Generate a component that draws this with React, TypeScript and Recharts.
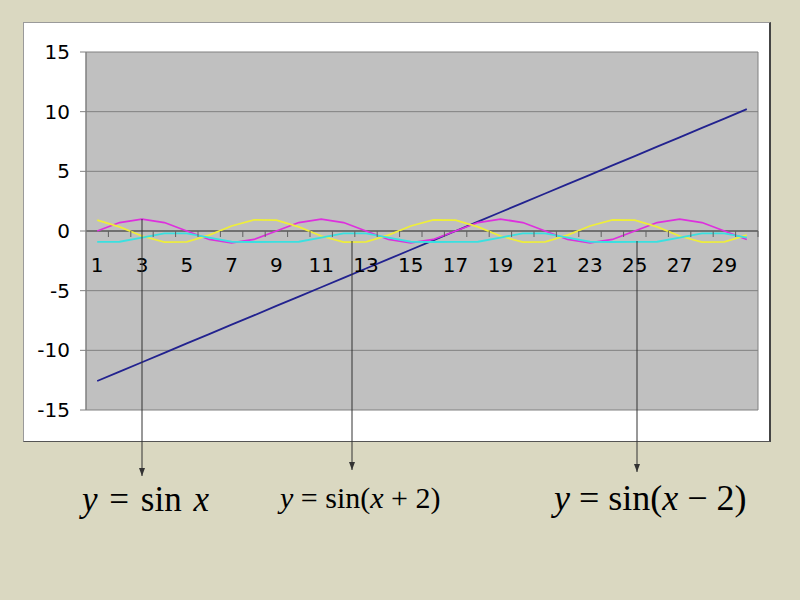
import { LineChart, Line, XAxis, YAxis, CartesianGrid, ReferenceLine } from "recharts";

const CATEGORIES = [1, 2, 3, 4, 5, 6, 7, 8, 9, 10, 11, 12, 13, 14, 15, 16, 17, 18, 19, 20, 21, 22, 23, 24, 25, 26, 27, 28, 29, 30];
const X_LABELS = [1, 3, 5, 7, 9, 11, 13, 15, 17, 19, 21, 23, 25, 27, 29];
const Y_TICKS = [-15, -10, -5, 0, 5, 10, 15];

// navy: the argument x itself
const ARG_X = [-12.57, -11.78, -11.0, -10.21, -9.42, -8.64, -7.85, -7.07, -6.28, -5.5, -4.71, -3.93, -3.14, -2.36, -1.57, -0.79, 0, 0.79, 1.57, 2.36, 3.14, 3.93, 4.71, 5.5, 6.28, 7.07, 7.85, 8.64, 9.42, 10.21];
// magenta
const SIN_X = [0, 0.71, 1, 0.71, 0, -0.71, -1, -0.71, 0, 0.71, 1, 0.71, 0, -0.71, -1, -0.71, 0, 0.71, 1, 0.71, 0, -0.71, -1, -0.71, 0, 0.71, 1, 0.71, 0, -0.71];
// yellow
const SIN_X_PLUS_2 = [0.91, 0.35, -0.42, -0.94, -0.91, -0.35, 0.42, 0.94, 0.91, 0.35, -0.42, -0.94, -0.91, -0.35, 0.42, 0.94, 0.91, 0.35, -0.42, -0.94, -0.91, -0.35, 0.42, 0.94, 0.91, 0.35, -0.42, -0.94, -0.91, -0.35];
// cyan
const SIN_X_MINUS_2 = [-0.91, -0.9, -0.55, -0.2, -0.2, -0.55, -0.9, -0.92, -0.91, -0.9, -0.55, -0.2, -0.2, -0.55, -0.9, -0.92, -0.91, -0.9, -0.55, -0.2, -0.2, -0.55, -0.9, -0.92, -0.91, -0.9, -0.55, -0.2, -0.2, -0.55];

const data = CATEGORIES.map((n, i) => ({
  n,
  arg: ARG_X[i],
  s0: SIN_X[i],
  sp: SIN_X_PLUS_2[i],
  sm: SIN_X_MINUS_2[i],
}));

// tick marks sit between categories, labels on odd categories
const BOUNDS = CATEGORIES.map(n => n + 0.5);
const X_TICKS = [...X_LABELS, ...BOUNDS].sort((a, b) => a - b);

const TOP = 52;
const BOTTOM = 160;
const XAXIS_H = 30;
const CHART_H = 600;
const ZERO_Y = TOP + (CHART_H - TOP - BOTTOM - XAXIS_H) / 2;

const XTick = (props: any) => {
  const { x, payload } = props;
  const v = payload.value;
  if (X_LABELS.includes(v)) {
    return (
      <text x={x} y={ZERO_Y + 41} textAnchor="middle" fontSize={20} fill="#000" fontFamily="'DejaVu Sans', sans-serif">
        {v}
      </text>
    );
  }
  return <line x1={x} x2={x} y1={ZERO_Y} y2={ZERO_Y + 6} stroke="#606060" strokeWidth={1} />;
};

const serif = "'Liberation Serif', 'Times New Roman', serif";

export default function App() {
  return (
    <div style={{ position: "absolute", left: 0, top: 0, width: 800, height: 600, background: "#DAD8C1", overflow: "hidden" }}>
      <div
        style={{
          position: "absolute",
          left: 23,
          top: 22,
          width: 745,
          height: 418,
          background: "#fff",
          borderTop: "1px solid #9a9a9a",
          borderLeft: "1px solid #9a9a9a",
          borderBottom: "1px solid #555",
          borderRight: "2px solid #444",
        }}
      />
      <div style={{ position: "absolute", left: 0, top: 0 }}>
        <LineChart width={800} height={CHART_H} data={data} margin={{ top: TOP, right: 42, bottom: BOTTOM, left: 26 }}>
          <CartesianGrid
            fill="#C0C0C0"
            stroke="#808080"
            strokeOpacity={1}
            verticalCoordinatesGenerator={({ offset }: any) => [offset.left, offset.left + offset.width]}
          />
          <XAxis
            dataKey="n"
            type="number"
            domain={[0.5, 30.5]}
            ticks={X_TICKS}
            interval={0}
            height={XAXIS_H}
            axisLine={false}
            tickLine={false}
            tick={(p: any) => <XTick {...p} />}
          />
          <YAxis
            type="number"
            domain={[-15, 15]}
            ticks={Y_TICKS}
            width={60}
            axisLine={{ stroke: "#808080" }}
            tickLine={{ stroke: "#808080" }}
            tickSize={6}
            tickMargin={10}
            tick={{ fontSize: 20, fill: "#000", fontFamily: "'DejaVu Sans', sans-serif" }}
          />
          <ReferenceLine y={0} stroke="#606060" strokeWidth={1.5} />
          <Line dataKey="arg" stroke="#22228f" strokeWidth={1.8} dot={false} isAnimationActive={false} />
          <Line dataKey="s0" stroke="#dd30dd" strokeWidth={1.8} dot={false} isAnimationActive={false} />
          <Line dataKey="sp" stroke="#eeee3a" strokeWidth={1.8} dot={false} isAnimationActive={false} />
          <Line dataKey="sm" stroke="#3ae0e0" strokeWidth={1.8} dot={false} isAnimationActive={false} />
        </LineChart>
      </div>
      <svg width={800} height={600} style={{ position: "absolute", left: 0, top: 0, pointerEvents: "none" }}>
        <line x1={142} y1={219} x2={142} y2={476} stroke="#333" strokeWidth={1} />
        <path d="M139,468 L142,476 L145,468 Z" fill="#333" />
        <line x1={352} y1={241} x2={352} y2={470} stroke="#333" strokeWidth={1} />
        <path d="M349,462 L352,470 L355,462 Z" fill="#333" />
        <line x1={637} y1={241} x2={637} y2={472} stroke="#333" strokeWidth={1} />
        <path d="M634,464 L637,472 L640,464 Z" fill="#333" />
      </svg>
      <div style={{ position: "absolute", left: 82, top: 482, fontFamily: serif, fontSize: 35, lineHeight: 1, whiteSpace: "nowrap", wordSpacing: 3 }}>
        <i>y</i> = sin <i>x</i>
      </div>
      <div style={{ position: "absolute", left: 280, top: 483, fontFamily: serif, fontSize: 30, lineHeight: 1, whiteSpace: "nowrap" }}>
        <i>y</i> = sin(<i>x</i> + 2)
      </div>
      <div style={{ position: "absolute", left: 554, top: 480, fontFamily: serif, fontSize: 36, lineHeight: 1, whiteSpace: "nowrap" }}>
        <i>y</i> = sin(<i>x</i> − 2)
      </div>
    </div>
  );
}
